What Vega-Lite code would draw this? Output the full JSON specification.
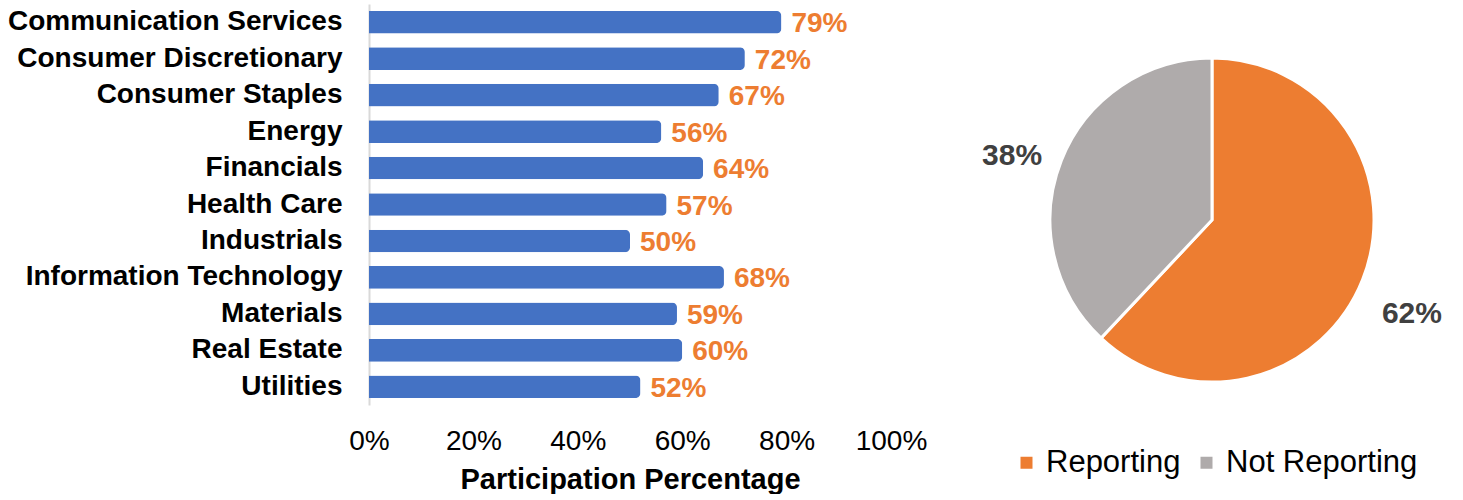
{
  "$schema": "https://vega.github.io/schema/vega-lite/v6.json",
  "background": "white",
  "padding": {"left": 0, "top": 4, "right": 0, "bottom": 0},
  "config": {"view": {"stroke": null}, "font": "Liberation Sans"},
  "bounds": "flush",
  "spacing": 121,
  "hconcat": [
    {
      "width": 522,
      "height": 401,
      "data": {"values": [
        {"sector": "Communication Services", "pct": 0.79},
        {"sector": "Consumer Discretionary", "pct": 0.72},
        {"sector": "Consumer Staples", "pct": 0.67},
        {"sector": "Energy", "pct": 0.56},
        {"sector": "Financials", "pct": 0.64},
        {"sector": "Health Care", "pct": 0.57},
        {"sector": "Industrials", "pct": 0.50},
        {"sector": "Information Technology", "pct": 0.68},
        {"sector": "Materials", "pct": 0.59},
        {"sector": "Real Estate", "pct": 0.60},
        {"sector": "Utilities", "pct": 0.52}
      ]},
      "encoding": {
        "y": {"field": "sector", "type": "nominal", "sort": null, "title": null,
          "axis": {"ticks": false, "domainColor": "#D9D9D9", "domainWidth": 2, "labelFontSize": 28, "labelFontWeight": "bold", "labelColor": "#000000", "labelPadding": 27, "labelLimit": 500, "minExtent": 369, "maxExtent": 369}},
        "x": {"field": "pct", "type": "quantitative", "scale": {"domain": [0, 1]}, "title": "Participation Percentage",
          "axis": {"format": ".0%", "values": [0, 0.2, 0.4, 0.6, 0.8, 1], "labelFlush": false, "grid": false, "domain": false, "ticks": false, "labelFontSize": 28, "labelColor": "#000000", "labelPadding": 22, "titleFontSize": 29, "titleFontWeight": "bold", "titleColor": "#000000", "titlePadding": 10}}
      },
      "layer": [
        {"mark": {"type": "bar", "color": "#4472C4", "cornerRadiusEnd": 5, "height": {"band": 0.69}}},
        {"mark": {"type": "text", "align": "left", "baseline": "middle", "dx": 10, "dy": 2, "color": "#ED7D31", "fontWeight": "bold", "fontSize": 28},
         "encoding": {"text": {"field": "pct", "type": "quantitative", "format": ".0%"}}}
      ]
    },
    {
      "width": 400,
      "height": 432,
      "data": {"values": [
        {"status": "Reporting", "share": 0.62, "rank": 1},
        {"status": "Not Reporting", "share": 0.38, "rank": 2}
      ]},
      "encoding": {
        "theta": {"field": "share", "type": "quantitative", "stack": true},
        "order": {"field": "rank", "type": "quantitative"}
      },
      "layer": [
        {"mark": {"type": "arc", "radius": 162, "stroke": "white", "strokeWidth": 3},
         "encoding": {
           "color": {"field": "status", "type": "nominal", "sort": ["Reporting", "Not Reporting"],
             "scale": {"domain": ["Reporting", "Not Reporting"], "range": ["#ED7D31", "#AFABAB"]},
             "legend": {"orient": "none", "legendX": 642, "legendY": 443, "direction": "horizontal", "title": null, "symbolType": "square", "symbolSize": 144, "symbolStrokeWidth": 0, "labelFontSize": 31, "labelLimit": 400, "labelColor": "#000000", "columnPadding": 10, "labelOffset": 4}}
         }},
        {"mark": {"type": "text", "radius": 215, "dy": 15, "align": "center", "baseline": "middle", "fontSize": 30, "fontWeight": "bold", "color": "#404040"},
         "encoding": {"text": {"field": "share", "type": "quantitative", "format": ".0%"}}}
      ]
    }
  ]
}
